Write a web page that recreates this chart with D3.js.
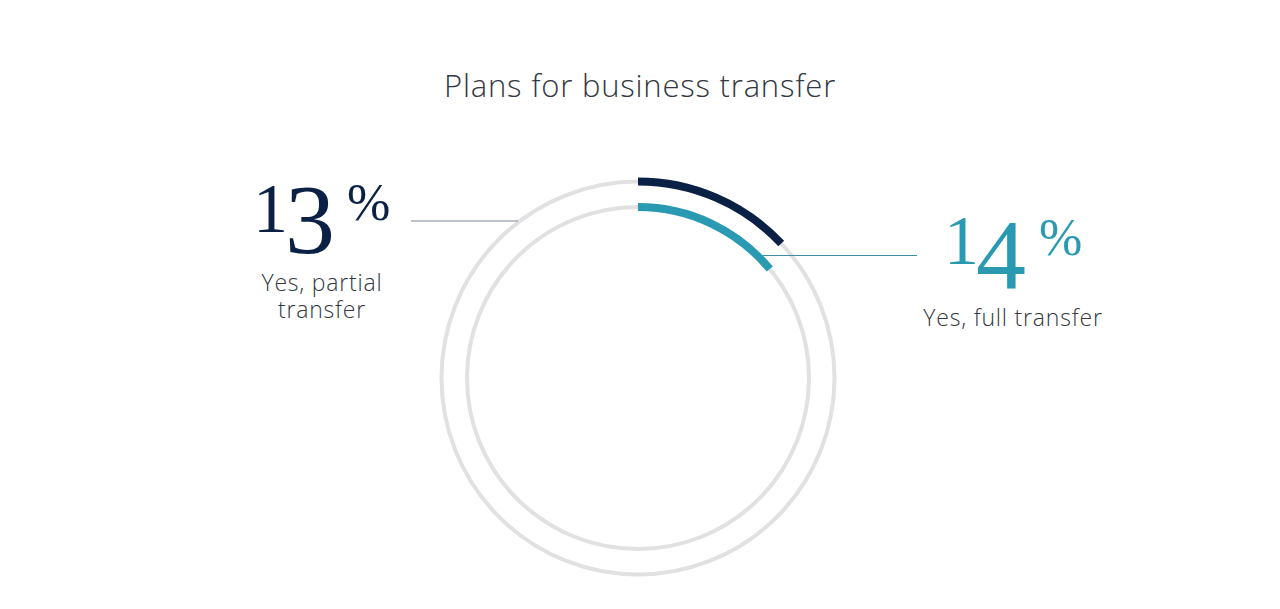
<!DOCTYPE html>
<html>
<head>
<meta charset="utf-8">
<script src="https://cdn.jsdelivr.net/npm/d3@7"></script>
<style>
  body { margin: 0; background: #fff; }
  svg { display: block; }
</style>
</head>
<body>
<svg id="chart"></svg>
<script>
// Data
const categories = ["Yes, partial transfer", "Yes, full transfer"];
const shares = [13, 14];
const labelLines = [["Yes, partial", "transfer"], ["Yes, full transfer"]];
const colors = ["#0b2045", "#2a9ab3"];

const width = 1280, height = 609;
const cx = 638, cy = 378;
const radii = [196.5, 171]; // outer ring, inner ring

const svg = d3.select("#chart")
    .attr("width", width)
    .attr("height", height);

// Title
svg.append("text")
    .attr("x", 640)
    .attr("y", 97)
    .attr("text-anchor", "middle")
    .style("font-family", "Open Sans")
    .style("font-weight", 300)
    .style("font-size", "31px")
    .style("letter-spacing", "0.8px")
    .style("fill", "#33373f")
    .text("Plans for business transfer");

const g = svg.append("g").attr("transform", `translate(${cx},${cy})`);

// Angle scale: percentage of a full circle
const angle = d3.scaleLinear().domain([0, 100]).range([0, 2 * Math.PI]);

// Grey background rings
g.selectAll(".track")
    .data(radii)
    .enter()
    .append("circle")
    .attr("class", "track")
    .attr("r", d => d)
    .attr("fill", "none")
    .attr("stroke", "#e1e1e1")
    .attr("stroke-width", 4);

// Coloured arcs
const arc = d3.arc()
    .innerRadius((d, i) => radii[i] - 4)
    .outerRadius((d, i) => radii[i] + 4)
    .startAngle(0)
    .endAngle(d => angle(d));

g.selectAll(".share")
    .data(shares)
    .enter()
    .append("path")
    .attr("class", "share")
    .attr("d", (d, i) => arc(d, i))
    .attr("fill", (d, i) => colors[i]);

// Annotations: leader line, big number, label
const annot = [
    { line: [411, 518, 221], lineColor: "#7a869b", numX: 253, numY: 232, pctX: 347, pctY: 220, labelX: 322, labelY: 291 },
    { line: [763, 917, 255.5], lineColor: "#3d8da3", numX: 944, numY: 264, pctX: 1039, pctY: 255, labelX: 1013, labelY: 326 }
];

shares.forEach((v, i) => {
    const a = annot[i];
    svg.append("line")
        .attr("x1", a.line[0]).attr("x2", a.line[1])
        .attr("y1", a.line[2]).attr("y2", a.line[2])
        .attr("stroke", a.lineColor)
        .attr("stroke-width", 1.2);

    // old-style looking figures: first digit small, second dropped
    const digits = String(v).split("");
    const num = svg.append("text")
        .attr("x", a.numX)
        .attr("y", a.numY)
        .style("font-family", "Liberation Serif")
        .style("fill", colors[i]);
    num.append("tspan").style("font-size", "70px").text(digits[0]);
    num.append("tspan").style("font-size", "100px").attr("dx", -3).attr("dy", i === 0 ? 21 : 24).text(digits[1]);

    svg.append("text")
        .attr("x", a.pctX)
        .attr("y", a.pctY)
        .style("font-family", "Liberation Serif")
        .style("font-size", "52px")
        .style("fill", colors[i])
        .text("%");

    const lbl = svg.append("text")
        .attr("x", a.labelX)
        .attr("y", a.labelY)
        .attr("text-anchor", "middle")
        .style("font-family", "Open Sans")
        .style("font-weight", 300)
        .style("font-size", "23px")
        .style("letter-spacing", "0.8px")
        .style("fill", "#33373f");
    labelLines[i].forEach((t, j) => {
        lbl.append("tspan")
            .attr("x", a.labelX)
            .attr("dy", j === 0 ? 0 : 27)
            .text(t);
    });
});
</script>
</body>
</html>
